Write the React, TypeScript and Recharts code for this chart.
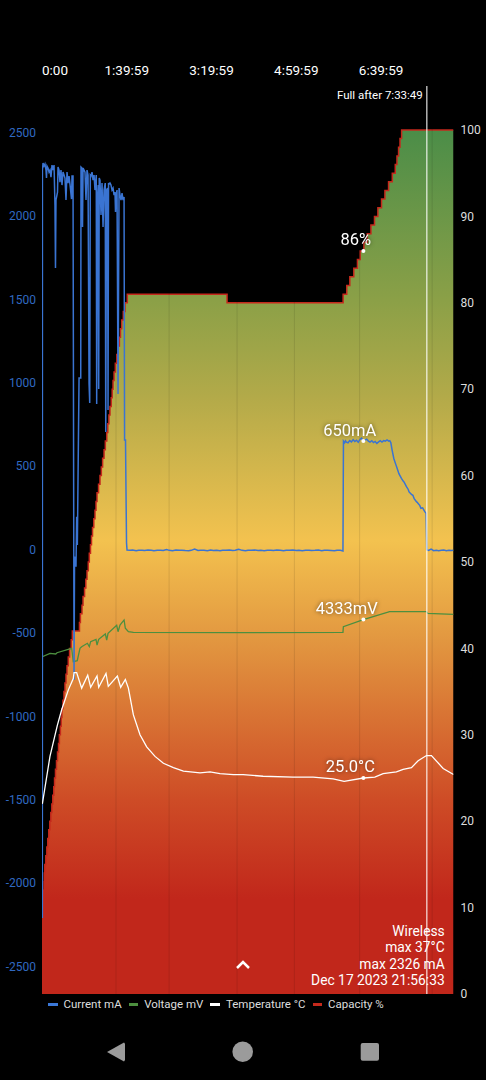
import {
  ComposedChart,
  Area,
  Line,
  XAxis,
  YAxis,
  Legend,
  ReferenceLine,
  ReferenceDot,
} from "recharts";

// time is in minutes since the start of the log
const timeTicks = [0, 99.98, 199.98, 299.98, 399.98];
const timeTickLabels = ["0:00", "1:39:59", "3:19:59", "4:59:59", "6:39:59"];
const currentTicks = [-2500, -2000, -1500, -1000, -500, 0, 500, 1000, 1500, 2000, 2500];
const percentTicks = [0, 10, 20, 30, 40, 50, 60, 70, 80, 90, 100];
const markerMinutes = [87.3, 149.9, 230.1, 297.7, 374.7, 460.2];
const fullAfterMinute = 453.9;
const sampleMinute = 379.1;
const infoLines = ["Wireless", "max 37°C", "max 2326 mA", "Dec 17 2023 21:56:33"];

const capacityMinutes = [
  0, 0.6, 1.2, 1.8, 2.4, 2.7, 3.3, 4.5, 5.7, 6.8, 8, 9.2, 10.4, 11.6, 12.7, 13.9, 14.8, 15.9, 17.1,
  18.3, 19.5, 20.5, 21.7, 22.7, 23.5, 24.7, 25.9, 27.1, 28.3, 29.5, 31, 32.5, 34.5, 35.8, 44.2, 45.3,
  47.2, 48.4, 50.2, 51.7, 53.1, 54.6, 55.8, 57.2, 58.4, 59.6, 61.1, 62.5, 63.7, 64.9, 66.7, 68.4, 70,
  71.5, 73.2, 74.7, 76.4, 77.6, 78.9, 80.2, 81.7, 82.8, 83.8, 85, 86.5, 88.2, 90, 91.3, 92.6, 94,
  95.9, 97.9, 100.6, 218.3, 355.2, 359.5, 363.1, 367.8, 372.1, 375.3, 379.7, 383.6, 388, 392.2,
  396.2, 400.5, 404.5, 408.8, 413.2, 416.7, 418.7, 420.6, 422.3, 424.2, 485.4,
];
const capacityPercent = [
  9, 10, 11, 12, 13, 14, 15, 16, 17, 18, 19, 20, 21, 22, 23, 24, 25, 26, 27, 28, 29, 30, 31, 32, 33,
  34, 35, 36, 37, 38, 39, 40, 41, 42, 43, 44, 45, 46, 47, 48, 49, 50, 51, 52, 53, 54, 55, 56, 57, 58,
  59, 60, 61, 62, 63, 64, 65, 66, 67, 68, 69, 70, 71, 72, 73, 74, 75, 76, 77, 78, 79, 80, 81, 80, 81,
  82, 83, 84, 85, 86, 87, 88, 89, 90, 91, 92, 93, 94, 95, 96, 97, 98, 99, 100, 100,
];

const currentMinutes = [
  0.4, 0.5, 1.2, 2.4, 3.5, 4.7, 5.3, 5.9, 7.1, 8.3, 9.4, 10.6, 11.8, 13, 14.2, 15.3, 15.9, 16.5, 18.3,
  18.9, 20.1, 21.2, 22.4, 23.6, 24.8, 26, 27.1, 28.3, 29.5, 30.7, 31.9, 33, 34.8, 35.4, 36.6, 37.8,
  38.4, 40.1, 40.9, 41.7, 43.7, 45.7, 46, 47.2, 47.8, 48.4, 49.6, 50.7, 51.9, 53.1, 54.3, 55.5, 56.3,
  57, 57.8, 59, 60.2, 61.4, 62.5, 64, 64.5, 65.3, 66.3, 66.9, 67.5, 68.4, 69.6, 70.8, 72, 73.2, 74.6,
  75.2, 76.1, 77.3, 77.9, 78.5, 79.1, 80.2, 81.4, 82.6, 83.8, 85, 86.1, 86.7, 87.3, 88.5, 89.7, 90.9,
  92, 93.2, 94.4, 95.6, 96.8, 97.4, 98.5, 99.7, 100.3,
  104, 107, 111, 114, 118, 121, 125, 129, 132, 136, 140, 143, 147, 150, 154, 158, 162, 165, 169, 173,
  176, 180, 184, 187, 191, 195, 199, 202, 206, 210, 213, 217, 221, 225, 228, 232, 236, 240, 243, 247,
  251, 255, 258, 262, 266, 270, 273, 277, 281, 285, 288, 292, 296, 300, 303, 307, 311, 315, 318, 322,
  326, 330, 333, 337, 341, 345, 348, 352, 355,
  355.6, 357, 358, 359, 361, 363, 365, 367, 369, 371, 373, 375, 377, 379.1, 381, 383, 385, 387, 389, 391,
  393, 395, 397, 399, 401, 403, 405, 407, 409, 410.2, 411.5, 413, 415, 417, 418.9, 421, 424, 426, 427, 429.9,
  432, 433, 435.8, 437.5, 439, 441.7, 443, 445.7, 447, 449, 451.5, 453.1,
  453.8, 456, 459, 462, 465, 468, 471, 474, 477, 480, 483, 485.4,
];
const currentMilliamps = [
  -2209, 2275, 2317, 2299, 2311, 2275, 2227, 2299, 2287, 2263, 2275, 2233, 2305, 2275, 2305, 2065, 1688,
  2095, 2143, 2293, 2275, 2203, 2275, 2185, 2263, 2245, 2227, 2095, 2263, 2197, 2239, 2191, 2101, 2239,
  2239, -782, -43, -103, 197, 27, 1028, 1028, 2293, 2287, 1933, 2287, 2275, 2263, 2095, 2275, 2245, 996,
  878, 2245, 2239, 2263, 2215, 2245, 2155, 2245, 872, 2095, 2185, 962, 2227, 2215, 2005, 2197, 1933, 2155,
  2197, 704, 2155, 2167, 836, 2197, 2191, 2197, 2185, 2155, 2167, 2125, 2143, 2023, 2119, 2155, 932, 2167,
  2125, 2095, 2137, 2095, 2113, 656, 656, 40, -3,
  -5, -3, -7, -4, -5, -6, -3, -5, -8, -4, -4, -6, 0, -5, -7, -3, -5, -4, -6, -7, -5, 3, -6, -4, -5, -7, -3, -6,
  -5, -8, -4, -5, -3, -6, -4, 2, -5, -7, -4, -5, -3, -6, -5, -7, -4, -5, -6, -3, -5, -8, -4, -5, -3, -6, -4,
  -7, -5, -4, -6, -5, -3, -7, -5, -4, -6, -8, -4, -5, -9,
  650, 640, 652, 644, 640, 653, 645, 658, 647, 655, 643, 660, 668, 650, 656, 662, 650, 644, 652, 641, 648,
  636, 645, 652, 644, 653, 650, 657, 650, 652, 640, 596, 546, 515, 487, 455, 427, 410, 405, 377,
  360, 345, 331, 325, 305, 287, 280, 263, 247, 250, 227, 217,
  -2, -6, 2, -7, -4, -8, -5, -3, -7, -5, -6, -4,
];

const voltageMinutes = [
  0.4, 0.5, 9.4, 16.2, 17.7, 35, 36.9, 41.6, 44.8, 46.8, 53.5, 55.8, 57.4, 63.7, 64.9, 66.9, 74.7, 76.3, 77.9,
  88.1, 89.7, 92, 96.8, 98.3, 101.9, 107.8, 230, 355, 355.5, 379.1, 410, 453.5, 455, 485.4,
];
const voltageMillivolts = [
  3500, 3904, 3943, 3935, 3950, 4001, 3846, 3858, 4001, 4020, 4059, 4020, 4078, 4105, 4039, 4105, 4167, 4097,
  4174, 4267, 4193, 4271, 4329, 4233, 4193, 4186, 4182, 4186, 4251, 4333, 4425, 4425, 4406, 4394,
];

const temperatureMinutes = [
  0.4, 9.4, 18.1, 23.2, 31.1, 36.9, 37.8, 40.9, 46.8, 53.9, 57.4, 64.9, 66.9, 75.5, 78.2, 88.9, 92.8, 98.3,
  101.9, 107.8, 115.6, 123.5, 133.3, 143.2, 155, 166.8, 186.4, 198.2, 210, 225.7, 237.2, 260.8, 296.2, 319.8,
  343.4, 356.4, 379.1, 392.6, 402.4, 418.1, 426, 435.8, 443.7, 453.5, 459.4, 473.2, 485.4,
];
const temperatureCelsius = [
  22, 27.5, 31.1, 32.9, 35.2, 36.5, 37.2, 37.2, 35.4, 36.9, 35.5, 36.8, 35.5, 37.1, 35.6, 36.8, 35.5, 36.4,
  35.4, 32.3, 30, 28.6, 27.5, 26.7, 26.2, 25.8, 25.6, 25.7, 25.5, 25.4, 25.4, 25.2, 25.1, 25.1, 24.9, 24.6,
  25, 25.1, 25.5, 25.7, 26, 26.2, 27, 27.6, 27.6, 26.1, 25.4,
];

const legendItems = [
  { name: "Current mA", color: "#3b78d8" },
  { name: "Voltage mV", color: "#4c8f3f" },
  { name: "Temperature °C", color: "#ffffff" },
  { name: "Capacity %", color: "#c5291c" },
];

const zip = (minutes: number[], values: number[]) =>
  minutes.map((minute, i) => ({ minute, value: values[i] }));

const capacityData = zip(capacityMinutes, capacityPercent);
const currentData = zip(currentMinutes, currentMilliamps);
const voltageData = zip(voltageMinutes, voltageMillivolts);
const temperatureData = zip(temperatureMinutes, temperatureCelsius);

const TimeTick = ({ x, y, payload, index }: any) => (
  <text
    x={x}
    y={y}
    dy={-3}
    fill="#fff"
    fontSize={13.5}
    textAnchor={payload.value === 0 ? "start" : "middle"}
  >
    {timeTickLabels[index]}
  </text>
);

// white value label sitting up and left of its dot
const dotLabel = (text: string, dx: number, dy: number) => ({ viewBox }: any) => (
  <text
    x={viewBox.x + viewBox.width / 2 + dx}
    y={viewBox.y + viewBox.height / 2 + dy}
    fill="#fff"
    fontSize={16.5}
    textAnchor="middle"
    dominantBaseline="central"
    style={{ filter: "drop-shadow(0 0 2px rgba(0,0,0,0.55))" }}
  >
    {text}
  </text>
);

const LegendRow = () => (
  <div style={{ display: "flex", alignItems: "center", height: 20, paddingLeft: 48, fontSize: 11.5, color: "#ddd" }}>
    {legendItems.map((item) => (
      <div key={item.name} style={{ display: "flex", alignItems: "center", marginRight: 7 }}>
        <span style={{ width: 9.5, height: 3, background: item.color, marginRight: 6 }} />
        {item.name}
      </div>
    ))}
  </div>
);

export default function App() {
  return (
    <div
      style={{
        position: "absolute",
        left: 0,
        top: 0,
        width: 486,
        height: 1080,
        background: "#000",
        fontFamily: "Roboto",
        overflow: "hidden",
      }}
    >
      <ComposedChart width={486} height={1080} margin={{ top: 56, right: 0, bottom: 66, left: 0 }}>
        <defs>
          <linearGradient id="capacityFill" x1="0" y1="0" x2="0" y2="1">
            <stop offset="0%" stopColor="#4b8d48" />
            <stop offset="19.7%" stopColor="#8ba047" />
            <stop offset="31%" stopColor="#b3aa49" />
            <stop offset="47.5%" stopColor="#f3c24f" />
            <stop offset="59%" stopColor="#e29740" />
            <stop offset="77.5%" stopColor="#ce4c26" />
            <stop offset="89%" stopColor="#c1271b" />
            <stop offset="100%" stopColor="#c1271b" />
          </linearGradient>
        </defs>
        <XAxis
          xAxisId="t"
          type="number"
          dataKey="minute"
          orientation="top"
          height={30}
          domain={[0, 485.4]}
          ticks={timeTicks}
          interval={0}
          allowDataOverflow
          axisLine={false}
          tickLine={false}
          tick={<TimeTick />}
        />
        <YAxis
          yAxisId="mA"
          orientation="left"
          width={42}
          domain={[-2665, 2779]}
          ticks={currentTicks}
          interval={0}
          allowDataOverflow
          axisLine={false}
          tickLine={false}
          tickSize={0}
          tickMargin={6}
          tick={{ fill: "#3069c0", fontSize: 12 }}
        />
        <YAxis
          yAxisId="pct"
          orientation="right"
          width={32.5}
          domain={[0, 105.09]}
          ticks={percentTicks}
          interval={0}
          allowDataOverflow
          axisLine={false}
          tickLine={false}
          tickSize={0}
          tickMargin={7}
          tick={{ fill: "#ddd", fontSize: 12 }}
        />
        <YAxis yAxisId="mV" hide domain={[0, 10509]} allowDataOverflow />
        <Area
          xAxisId="t"
          yAxisId="pct"
          data={capacityData}
          dataKey="value"
          name="Capacity %"
          type="stepAfter"
          stroke="#c5291c"
          strokeWidth={1.5}
          fill="url(#capacityFill)"
          fillOpacity={1}
          dot={false}
          isAnimationActive={false}
        />
        {markerMinutes.map((m) => (
          <ReferenceLine key={m} xAxisId="t" yAxisId="pct" x={m} stroke="rgba(0,0,0,0.1)" strokeWidth={1} />
        ))}
        <Line
          xAxisId="t"
          yAxisId="mV"
          data={voltageData}
          dataKey="value"
          name="Voltage mV"
          type="linear"
          stroke="#4c8f3f"
          strokeWidth={1.3}
          dot={false}
          isAnimationActive={false}
        />
        <Line
          xAxisId="t"
          yAxisId="mA"
          data={currentData}
          dataKey="value"
          name="Current mA"
          type="linear"
          stroke="#3a74d2"
          strokeWidth={1.5}
          dot={false}
          isAnimationActive={false}
        />
        <Line
          xAxisId="t"
          yAxisId="pct"
          data={temperatureData}
          dataKey="value"
          name="Temperature °C"
          type="linear"
          stroke="#ffffff"
          strokeWidth={1.3}
          dot={false}
          isAnimationActive={false}
        />
        <ReferenceLine
          xAxisId="t"
          yAxisId="pct"
          x={fullAfterMinute}
          stroke="rgba(255,255,255,0.7)"
          strokeWidth={1.5}
          label={({ viewBox }: any) => (
            <text x={viewBox.x - 4} y={95} dominantBaseline="central" textAnchor="end" fill="#fff" fontSize={11.5}>
              Full after 7:33:49
            </text>
          )}
        />
        <ReferenceDot xAxisId="t" yAxisId="pct" x={sampleMinute} y={86} r={2} fill="#fff" stroke="none" label={dotLabel("86%", -7.6, -11.7)} />
        <ReferenceDot xAxisId="t" yAxisId="mA" x={sampleMinute} y={650} r={2} fill="#fff" stroke="none" label={dotLabel("650mA", -13.6, -10.4)} />
        <ReferenceDot xAxisId="t" yAxisId="mV" x={sampleMinute} y={4333} r={2} fill="#fff" stroke="none" label={dotLabel("4333mV", -16.6, -11)} />
        <ReferenceDot xAxisId="t" yAxisId="pct" x={sampleMinute} y={25} r={2} fill="#fff" stroke="none" label={dotLabel("25.0°C", -13, -11)} />
        <Legend verticalAlign="bottom" align="left" height={20} content={<LegendRow />} />
      </ComposedChart>

      <div
        style={{
          position: "absolute",
          right: 41.3,
          top: 922.5,
          textAlign: "right",
          color: "#fff",
          fontSize: 13.8,
          lineHeight: "16.6px",
          whiteSpace: "nowrap",
        }}
      >
        {infoLines.map((line) => (
          <div key={line}>{line}</div>
        ))}
      </div>

      <svg width={486} height={1080} style={{ position: "absolute", left: 0, top: 0, pointerEvents: "none" }}>
        <polyline points="237,968 243,962 249,968" fill="none" stroke="#fff" strokeWidth={2.5} />
        <path d="M124 1042.5 L125 1043.5 V1060 L124 1061.5 L107 1052 Z" fill="#9b9b9b" />
        <circle cx={242.7} cy={1051.7} r={10.3} fill="#9b9b9b" />
        <rect x={360.7} y={1043} width={18.3} height={17.7} rx={2} fill="#9b9b9b" />
      </svg>
    </div>
  );
}
